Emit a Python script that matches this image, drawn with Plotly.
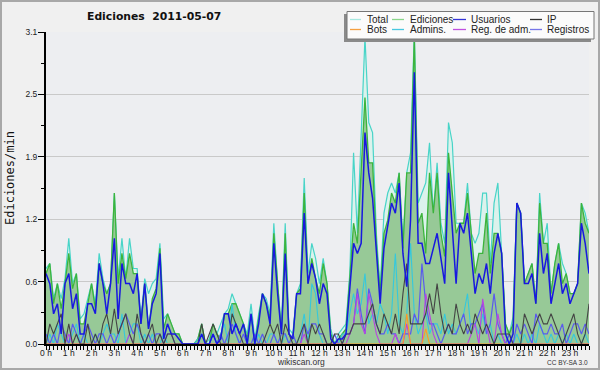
import plotly.graph_objects as go

# ---------------- data (values per 10-minute slot, edits/min) ----------------
slot_minutes = list(range(0, 1440, 10))
hour_ticks = list(range(24))
hour_labels = [f"{h} h" for h in hour_ticks]
y_tick_values = [0.0, 0.62, 1.24, 1.86, 2.48, 3.1]
y_tick_labels = ["0.0", "0.6", "1.2", "1.9", "2.5", "3.1"]

total = [
    0.75, 0.8, 0.45, 0.6, 0.45, 0.65,
    1.05, 0.6, 0.7, 0.25, 0.3, 0.45,
    0.6, 0.4, 0.9, 0.65, 0.5, 0.6,
    1.5, 0.65, 1.05, 0.65, 1.05, 0.75,
    0.75, 0.25, 0.65, 0.5, 0.6, 0.65,
    1.0, 0.25, 0.3, 0.2, 0.1, 0.1,
    0.0, 0.0, 0.0, 0.0, 0.05, 0.2,
    0.0, 0.05, 0.2, 0.1, 0.2, 0.3,
    0.35, 0.5, 0.4, 0.3, 0.2, 0.1,
    0.4, 0.05, 0.3, 0.5, 0.45, 0.3,
    1.2, 0.6, 0.15, 1.2, 0.15, 0.1,
    0.5, 0.6, 1.65, 0.7, 1.0, 0.85,
    0.6, 0.85, 0.6, 0.15, 0.0, 0.1,
    0.15, 0.2, 0.7, 1.9, 1.1, 2.0,
    3.05, 2.2, 2.1, 1.1, 0.55, 1.3,
    1.5, 1.6, 1.5, 1.7, 1.0, 1.7,
    1.9, 3.1, 1.4, 1.5, 1.6, 2.0,
    1.3, 1.8, 1.2, 1.0, 2.2, 2.0,
    1.2, 1.2, 1.2, 1.6, 1.1, 1.0,
    1.1, 1.5, 1.5, 0.8, 1.4, 1.6,
    0.95, 0.2, 0.1, 0.27, 1.4, 1.3,
    0.6, 0.7, 0.8, 0.4, 1.5, 1.0,
    1.2, 0.5, 0.8, 1.0, 0.8, 0.7,
    0.5, 0.5, 0.6, 1.4, 1.3, 1.1,
]

ediciones = [
    0.7, 0.8, 0.4, 0.6, 0.35, 0.6,
    0.9, 0.55, 0.7, 0.2, 0.2, 0.4,
    0.6, 0.35, 0.8, 0.6, 0.5, 0.6,
    1.5, 0.6, 0.9, 0.65, 0.9, 0.7,
    0.7, 0.2, 0.6, 0.15, 0.45, 0.55,
    0.95, 0.15, 0.3, 0.2, 0.1, 0.1,
    0.0, 0.0, 0.0, 0.0, 0.05, 0.2,
    0.0, 0.0, 0.2, 0.1, 0.05, 0.3,
    0.3, 0.4, 0.4, 0.3, 0.2, 0.05,
    0.3, 0.0, 0.25, 0.5, 0.4, 0.25,
    1.1, 0.55, 0.1, 1.1, 0.1, 0.05,
    0.5, 0.55, 1.5, 0.6, 0.85, 0.65,
    0.5, 0.8, 0.6, 0.1, 0.0, 0.05,
    0.1, 0.15, 0.65, 1.2, 1.0, 1.8,
    2.45, 1.8, 1.8, 1.0, 0.5, 1.1,
    1.23, 1.5, 1.4, 1.7, 0.95, 1.7,
    1.7, 3.05, 1.2, 1.3, 0.9, 1.7,
    1.3, 1.7, 1.1, 0.87, 1.9, 1.5,
    1.1, 1.2, 1.2, 1.5, 1.1, 0.7,
    0.9, 0.9, 1.3, 0.7, 1.1, 1.1,
    0.9, 0.2, 0.1, 0.2, 1.4, 1.3,
    0.6, 0.7, 0.8, 0.4, 1.4, 1.0,
    1.0, 0.5, 0.8, 1.0, 0.6, 0.7,
    0.5, 0.5, 0.6, 1.4, 1.2, 1.1,
]

usuarios = [
    0.7, 0.6, 0.3, 0.4, 0.1, 0.6,
    0.7, 0.35, 0.5, 0.1, 0.1, 0.4,
    0.4, 0.3, 0.8, 0.6, 0.3, 0.6,
    1.05, 0.25, 0.8, 0.6, 0.6, 0.5,
    0.7, 0.2, 0.6, 0.15, 0.4, 0.5,
    0.9, 0.05, 0.2, 0.1, 0.1, 0.05,
    0.0, 0.0, 0.0, 0.0, 0.0, 0.1,
    0.0, 0.0, 0.1, 0.0, 0.05, 0.3,
    0.3, 0.1, 0.2, 0.1, 0.2, 0.0,
    0.3, 0.0, 0.2, 0.5, 0.4, 0.2,
    1.0, 0.5, 0.1, 0.9, 0.1, 0.05,
    0.5, 0.5, 1.3, 0.6, 0.8, 0.65,
    0.4, 0.6, 0.5, 0.05, 0.0, 0.05,
    0.05, 0.1, 0.6, 1.0, 0.9, 1.0,
    2.1, 1.7, 1.45, 0.9, 0.4, 0.95,
    1.17, 1.4, 1.3, 1.6, 0.9, 0.57,
    1.23, 2.7, 1.0, 1.0, 0.8, 0.8,
    0.95, 1.1, 0.85, 0.6, 1.7, 1.15,
    0.6, 1.2, 1.1, 1.3, 0.9, 0.5,
    0.7, 0.6, 0.8, 0.5, 0.9, 1.1,
    0.9, 0.1, 0.0, 0.1, 1.4, 1.3,
    0.6, 0.6, 0.7, 0.4, 1.1, 0.7,
    0.9, 0.4, 0.6, 0.8, 0.5, 0.6,
    0.4, 0.5, 0.6, 1.2, 1.0, 0.7,
]

ip = [
    0.0, 0.2, 0.1, 0.2, 0.3, 0.0,
    0.2, 0.0, 0.1, 0.0, 0.0, 0.2,
    0.0, 0.1, 0.0, 0.2, 0.3, 0.1,
    0.35, 0.1, 0.2, 0.3, 0.1, 0.0,
    0.3, 0.1, 0.0, 0.1, 0.2, 0.0,
    0.1, 0.0, 0.1, 0.1, 0.0, 0.0,
    0.0, 0.0, 0.0, 0.0, 0.0, 0.2,
    0.0, 0.1, 0.2, 0.1, 0.0, 0.0,
    0.0, 0.3, 0.2, 0.1, 0.0, 0.0,
    0.0, 0.0, 0.0, 0.0, 0.1, 0.2,
    0.1, 0.2, 0.0, 0.2, 0.1, 0.0,
    0.0, 0.1, 0.2, 0.0, 0.2, 0.1,
    0.2, 0.1, 0.0, 0.0, 0.1, 0.1,
    0.0, 0.1, 0.1, 0.2, 0.2, 0.2,
    0.2, 0.3, 0.4, 0.2, 0.1, 0.3,
    0.2, 0.1, 0.3, 0.1, 0.5, 0.8,
    0.2, 0.2, 0.2, 0.2, 0.3, 0.5,
    0.3, 0.6, 0.3, 0.1, 0.2, 0.1,
    0.4, 0.2, 0.1, 0.2, 0.1, 0.3,
    0.2, 0.1, 0.2, 0.1, 0.0, 0.1,
    0.1, 0.1, 0.1, 0.0, 0.0, 0.0,
    0.3, 0.2, 0.1, 0.2, 0.3, 0.2,
    0.2, 0.3, 0.2, 0.1, 0.0, 0.1,
    0.2, 0.3, 0.1, 0.0, 0.1, 0.4,
]

admins = [
    0.0, 0.1, 0.0, 0.2, 0.1, 0.0,
    0.0, 0.1, 0.2, 0.0, 0.1, 0.0,
    0.0, 0.1, 0.0, 0.1, 0.2, 0.1,
    0.1, 0.0, 0.3, 0.0, 0.1, 0.2,
    0.2, 0.0, 0.1, 0.0, 0.1, 0.0,
    0.0, 0.1, 0.0, 0.0, 0.0, 0.0,
    0.0, 0.0, 0.0, 0.0, 0.05, 0.1,
    0.0, 0.0, 0.1, 0.0, 0.1, 0.2,
    0.0, 0.4, 0.1, 0.0, 0.0, 0.0,
    0.3, 0.0, 0.1, 0.0, 0.0, 0.1,
    0.1, 0.0, 0.0, 0.1, 0.0, 0.0,
    0.0, 0.1, 0.3, 0.0, 0.6, 0.5,
    0.1, 0.0, 0.0, 0.0, 0.0, 0.0,
    0.1, 0.1, 0.3, 0.5, 0.3, 0.4,
    0.7, 0.2, 0.3, 0.2, 0.4, 0.3,
    0.1, 0.3, 0.9, 0.2, 0.1, 0.3,
    1.0, 0.3, 0.1, 0.2, 0.3, 0.1,
    0.2, 0.2, 0.1, 0.3, 0.1, 0.2,
    0.1, 0.2, 0.3, 0.5, 0.1, 0.2,
    0.1, 0.3, 0.1, 0.2, 0.0, 0.1,
    0.0, 0.0, 0.1, 0.0, 0.1, 0.0,
    0.1, 0.0, 0.1, 0.0, 0.2, 0.1,
    0.0, 0.1, 0.0, 0.1, 0.0, 0.1,
    0.0, 0.1, 0.0, 0.0, 0.1, 0.0,
]

registros = [
    0.1, 0.0, 0.1, 0.0, 0.2, 0.1,
    0.0, 0.2, 0.1, 0.0, 0.1, 0.2,
    0.1, 0.0, 0.1, 0.1, 0.0, 0.1,
    0.0, 0.1, 0.2, 0.3, 0.2, 0.1,
    0.2, 0.1, 0.0, 0.1, 0.0, 0.1,
    0.1, 0.0, 0.1, 0.1, 0.0, 0.0,
    0.0, 0.0, 0.0, 0.0, 0.0, 0.0,
    0.0, 0.0, 0.1, 0.0, 0.1, 0.0,
    0.1, 0.2, 0.1, 0.0, 0.1, 0.0,
    0.0, 0.1, 0.0, 0.1, 0.0, 0.0,
    0.1, 0.0, 0.1, 0.1, 0.0, 0.1,
    0.0, 0.0, 0.2, 0.1, 0.2, 0.2,
    0.1, 0.1, 0.0, 0.0, 0.1, 0.0,
    0.0, 0.1, 0.1, 0.2, 0.55, 0.3,
    0.1, 0.55, 0.4, 0.2, 0.1, 0.1,
    0.2, 0.1, 0.1, 0.0, 0.1, 0.1,
    0.1, 0.3, 0.2, 0.8, 0.4, 0.2,
    0.2, 0.1, 0.0, 0.1, 0.2, 0.1,
    0.1, 0.2, 0.3, 0.1, 0.2, 0.2,
    0.3, 0.4, 0.1, 0.2, 0.5, 0.2,
    0.1, 0.0, 0.1, 0.0, 0.2, 0.1,
    0.2, 0.1, 0.0, 0.3, 0.2, 0.1,
    0.1, 0.2, 0.1, 0.1, 0.2, 0.0,
    0.1, 0.2, 0.2, 0.1, 0.2, 0.1,
]

reg_adm = [
    0, 0, 0, 0, 0, 0,
    0.1, 0, 0, 0, 0, 0,
    0, 0, 0, 0, 0, 0,
    0, 0, 0, 0, 0.1, 0,
    0, 0, 0, 0, 0, 0,
    0, 0, 0, 0, 0, 0,
    0, 0, 0, 0, 0, 0,
    0, 0, 0, 0, 0, 0,
    0, 0, 0, 0, 0, 0,
    0, 0, 0, 0, 0, 0,
    0, 0, 0, 0, 0, 0,
    0, 0, 0.1, 0, 0, 0,
    0, 0, 0, 0, 0, 0,
    0, 0, 0.1, 0.2, 0.5, 0.2,
    0.1, 0.5, 0.3, 0.1, 0, 0,
    0, 0, 0.1, 0, 0, 0.2,
    0, 0, 0, 0, 0.5, 0.3,
    0.1, 0, 0, 0, 0, 0,
    0, 0, 0, 0, 0.1, 0.2,
    0, 0.45, 0.2, 0, 0, 0.3,
    0.1, 0, 0, 0, 0, 0,
    0, 0, 0, 0, 0, 0,
    0, 0, 0, 0, 0, 0,
    0, 0, 0, 0, 0, 0,
]

bots = [
    0, 0, 0, 0, 0, 0,
    0, 0, 0, 0, 0, 0,
    0, 0, 0, 0, 0, 0,
    0, 0, 0, 0, 0, 0,
    0, 0, 0, 0, 0, 0,
    0, 0, 0, 0, 0, 0,
    0, 0, 0, 0, 0, 0,
    0, 0, 0, 0, 0, 0,
    0, 0, 0, 0, 0, 0,
    0, 0, 0, 0, 0, 0,
    0, 0, 0, 0, 0, 0,
    0, 0, 0, 0, 0, 0,
    0, 0, 0, 0, 0, 0,
    0, 0, 0, 0, 0, 0,
    0, 0, 0, 0, 0, 0,
    0, 0, 0, 0, 0, 0.3,
    0, 0, 0, 0, 0.15, 0,
    0, 0, 0, 0, 0, 0,
    0, 0, 0, 0, 0, 0,
    0, 0, 0, 0, 0, 0,
    0, 0, 0, 0, 0, 0,
    0, 0, 0, 0, 0, 0,
    0, 0, 0, 0, 0, 0,
    0, 0, 0, 0, 0, 0,
]

series_names = ["Total", "Ediciones", "Usuarios", "IP",
                "Bots", "Admins.", "Reg. de adm.", "Registros"]

# ---------------- styling ----------------
C_TOTAL = "#48d4c8"
C_TOTAL_FILL = "#dcf2ec"
C_EDIC = "#3cb43c"
C_EDIC_FILL = "#97c997"
C_USU = "#1818e0"
C_IP = "#444444"
C_BOTS = "#ff9a22"
C_ADM = "#35c8dd"
C_REGADM = "#b844e0"
C_REG = "#5a5aee"

W, H = 600, 370
L, R, T, B = 46, 11, 32, 26
PW, PH = W - L - R, H - T - B


def px(x):
    return (x - L) / PW


def py(y):
    return (H - B - y) / PH


x = [m / 60 for m in slot_minutes]

fig = go.Figure()
fig.add_trace(go.Scatter(x=x, y=total, mode="lines", fill="tozeroy",
                         fillcolor=C_TOTAL_FILL, hoverinfo="skip",
                         line=dict(color=C_TOTAL, width=1.2)))
fig.add_trace(go.Scatter(x=x, y=ediciones, mode="lines", fill="tozeroy",
                         fillcolor=C_EDIC_FILL, hoverinfo="skip",
                         line=dict(color=C_EDIC, width=1.3)))
for ys, col, w in [(admins, C_ADM, 1.1), (registros, C_REG, 1.2),
                   (reg_adm, C_REGADM, 1.1), (bots, C_BOTS, 1.1),
                   (ip, C_IP, 1.1), (usuarios, C_USU, 1.5)]:
    fig.add_trace(go.Scatter(x=x, y=ys, mode="lines", hoverinfo="skip",
                             line=dict(color=col, width=w)))

shapes = []
annotations = []

# outer frame
shapes.append(dict(type="rect", xref="paper", yref="paper",
                   x0=px(1), x1=px(599), y0=py(369), y1=py(1),
                   line=dict(color="#a8a8a8", width=2), layer="below"))

# legend (shadow, box, entries)
shapes.append(dict(type="rect", xref="paper", yref="paper",
                   x0=px(344), x1=px(591), y0=py(42), y1=py(14),
                   fillcolor="#8a8a8a", line=dict(width=0), layer="above"))
shapes.append(dict(type="rect", xref="paper", yref="paper",
                   x0=px(347), x1=px(594), y0=py(39), y1=py(11.5),
                   fillcolor="#fbfbfb", line=dict(color="#777777", width=1),
                   layer="above"))
legend_colors = ["#a6e8e0", "#8ad68a", "#3434d8", "#333333",
                 "#f5a040", "#48c8e0", "#c050e0", "#7676e8"]
col_sym = [(350, 361), (392, 404), (453, 466), (530, 542)]
col_txt = [365, 408, 469, 545]
row_y = [19.5, 29.5]
for k, name in enumerate(series_names):
    r, c = divmod(k, 4)
    shapes.append(dict(type="line", xref="paper", yref="paper",
                       x0=px(col_sym[c][0]), x1=px(col_sym[c][1]),
                       y0=py(row_y[r]), y1=py(row_y[r]),
                       line=dict(color=legend_colors[k], width=1.3),
                       layer="above"))
    annotations.append(dict(xref="paper", yref="paper", x=px(col_txt[c]),
                            y=py(row_y[r]), text=name, showarrow=False,
                            xanchor="left", yanchor="middle",
                            font=dict(family="Liberation Sans", size=10,
                                      color="#222222")))

# title
annotations.append(dict(xref="paper", yref="paper", x=px(154), y=py(16.5),
                        text="Ediciones  2011-05-07", showarrow=False,
                        xanchor="center", yanchor="middle",
                        font=dict(family="DejaVu Sans", size=10.8,
                                  color="#111111", weight="bold")))
# y-axis title
annotations.append(dict(xref="paper", yref="paper", x=px(10), y=py(178),
                        text="Ediciones/min", showarrow=False, textangle=-90,
                        xanchor="center", yanchor="middle",
                        font=dict(family="DejaVu Sans Mono", size=12,
                                  color="#111111")))
# footer texts
annotations.append(dict(xref="paper", yref="paper", x=px(301), y=py(362),
                        text="wikiscan.org", showarrow=False,
                        xanchor="center", yanchor="middle",
                        font=dict(family="Liberation Sans", size=8.5,
                                  color="#333333")))
annotations.append(dict(xref="paper", yref="paper", x=px(590), y=py(362.5),
                        text="CC BY-SA 3.0", showarrow=False,
                        xanchor="right", yanchor="middle",
                        font=dict(family="Liberation Sans", size=6.5,
                                  color="#333333")))

tick_font = dict(family="Liberation Sans", size=8.5, color="#222222")

fig.update_layout(
    width=W, height=H,
    margin=dict(l=L, r=R, t=T, b=B, pad=0, autoexpand=False),
    paper_bgcolor="#f0f0f0",
    plot_bgcolor="#edeef1",
    showlegend=False,
    hovermode=False,
    shapes=shapes,
    annotations=annotations,
    xaxis=dict(range=[0, 143 / 6], tickmode="array", tickvals=hour_ticks,
               ticktext=hour_labels, ticks="outside", ticklen=4,
               tickwidth=1, tickcolor="#000000", showgrid=False,
               zeroline=False, showline=True, linecolor="#000000",
               linewidth=2, tickfont=tick_font, ticklabelstandoff=-4,
               automargin=False,
               minor=dict(dtick=1 / 6, ticks="outside", ticklen=4,
                          tickwidth=1, tickcolor="#000000", showgrid=False)),
    yaxis=dict(range=[0, 3.1], tickmode="array", tickvals=y_tick_values,
               ticktext=y_tick_labels, ticks="outside", ticklen=6,
               tickwidth=1, tickcolor="#000000", showgrid=True,
               gridcolor="#c9c9c9", gridwidth=1, zeroline=False,
               showline=True, linecolor="#000000", linewidth=2,
               tickfont=tick_font, ticklabelstandoff=-1, automargin=False,
               minor=dict(tickvals=[0.31, 0.93, 1.55, 2.17, 2.79],
                          ticks="outside", ticklen=3, tickwidth=1,
                          tickcolor="#000000", showgrid=False)),
)

fig.write_html(
    "out.html",
    config={"displayModeBar": False, "staticPlot": True},
    post_script="document.body.style.margin='0';document.body.style.overflow='hidden';",
)
